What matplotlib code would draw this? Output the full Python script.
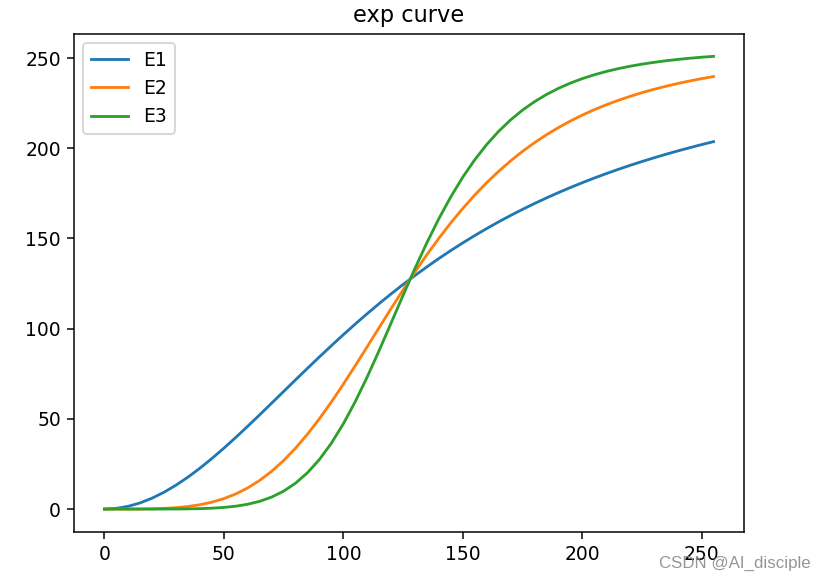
import matplotlib
matplotlib.use("Agg")
import matplotlib.pyplot as plt

x = [0, 5, 10, 15, 20, 25, 30, 35, 40, 45, 50, 55, 60, 65, 70, 75, 80, 85, 90, 95,
     100, 105, 110, 115, 120, 125, 130, 135, 140, 145, 150, 155, 160, 165, 170, 175,
     180, 185, 190, 195, 200, 205, 210, 215, 220, 225, 230, 235, 240, 245, 250, 255]

e1 = [0.0, 0.39, 1.55, 3.45, 6.08, 9.37, 13.28, 17.74, 22.69, 28.05, 33.76, 39.74,
      45.94, 52.28, 58.71, 65.17, 71.63, 78.04, 84.36, 90.57, 96.65, 102.57, 108.33,
      113.90, 119.28, 124.48, 129.48, 134.28, 138.90, 143.32, 147.55, 151.61, 155.49,
      159.20, 162.74, 166.13, 169.36, 172.45, 175.40, 178.21, 180.90, 183.47, 185.93,
      188.27, 190.51, 192.65, 194.70, 196.66, 198.53, 200.32, 202.04, 203.68]

e2 = [0.0, 0.0006, 0.0095, 0.048, 0.152, 0.371, 0.767, 1.418, 2.409, 3.837, 5.802,
      8.406, 11.744, 15.900, 20.936, 26.888, 33.759, 41.514, 50.085, 59.362, 69.204,
      79.479, 89.996, 100.60, 111.13, 121.46, 131.45, 141.04, 150.11, 158.66, 166.64,
      174.05, 180.90, 187.20, 192.98, 198.26, 203.07, 207.46, 211.45, 215.07, 218.36,
      221.36, 224.07, 226.54, 228.78, 230.82, 232.68, 234.37, 235.91, 237.32, 238.60,
      239.78]

e3 = [0.0, 0.0, 0.00006, 0.00066, 0.0037, 0.0142, 0.0423, 0.1066, 0.2372, 0.4805,
      0.9028, 1.595, 2.677, 4.299, 6.644, 9.918, 14.344, 20.140, 27.491, 36.517,
      47.241, 59.555, 73.225, 87.891, 103.12, 118.44, 133.43, 147.69, 160.97, 173.09,
      183.97, 193.60, 202.04, 209.37, 215.70, 221.14, 225.80, 229.79, 233.20, 236.11,
      238.60, 240.73, 242.56, 244.13, 245.48, 246.64, 247.64, 248.51, 249.26, 249.92,
      250.49, 250.98]

labels = ["E1", "E2", "E3"]
title = "exp curve"
watermark = "CSDN @AI_disciple"

dpi = 135
fig = plt.figure(figsize=(826 / dpi, 580 / dpi), dpi=dpi)
ax = fig.add_axes([74 / 826, 1 - 531.7 / 580, (744 - 74) / 826, (531.7 - 33.7) / 580])
ax.plot(x, e1, label=labels[0])
ax.plot(x, e2, label=labels[1])
ax.plot(x, e3, label=labels[2])
ax.set_title(title)
ax.legend(loc="upper left")
fig.text(811 / 826, 1 - 563 / 580, watermark, ha="right", va="center",
         color="#8a8a8a", fontsize=9, family=["Liberation Sans", "DejaVu Sans"],
         alpha=0.9)
fig.savefig("out.png", dpi=dpi)
